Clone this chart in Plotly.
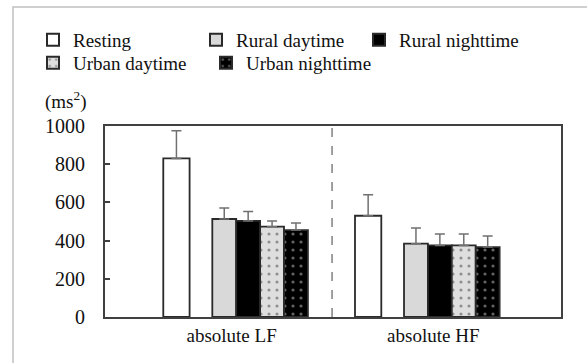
import plotly.graph_objects as go

# ---- data ----
categories = ["absolute LF", "absolute HF"]
series_names = ["Resting", "Rural daytime", "Rural nighttime", "Urban daytime", "Urban nighttime"]
resting = [830, 530]
rural_day = [513, 384]
rural_night = [503, 375]
urban_day = [473, 375]
urban_night = [455, 366]
resting_err = [145, 110]
rural_day_err = [58, 82]
rural_night_err = [50, 60]
urban_day_err = [30, 60]
urban_night_err = [37, 58]
y_ticks = [0, 200, 400, 600, 800, 1000]

values = [resting, rural_day, rural_night, urban_day, urban_night]
errors = [resting_err, rural_day_err, rural_night_err, urban_day_err, urban_night_err]

# ---- styles ----
SLOT = 0.1247
slot_index = [0, 2, 3, 4, 5]          # one empty slot after Resting
width_factor = [1.1, 1, 1, 1, 1]
fills = ["white", "#d9d9d9", "black", "#dedede", "black"]
patterns = [None, None, None,
            dict(shape=".", fgcolor="#404040", bgcolor="#dedede", size=8, solidity=0.12),
            dict(shape=".", fgcolor="#c8c8c8", bgcolor="black", size=8, solidity=0.12)]
legend_of = ["legend", "legend", "legend", "legend2", "legend2"]

SERIF = "Liberation Serif"
TXT = "#111111"

fig = go.Figure()
cat_idx = list(range(len(categories)))
for i, name in enumerate(series_names):
    off = (slot_index[i] - 2.5) * SLOT
    marker = dict(color=fills[i], line=dict(color="#2a2a2a", width=1.8))
    if patterns[i] is not None:
        marker["pattern"] = patterns[i]
    fig.add_trace(go.Bar(
        name=name,
        x=[c + off for c in cat_idx],
        y=values[i],
        width=SLOT * width_factor[i],
        marker=marker,
        legend=legend_of[i],
        error_y=dict(type="data", symmetric=False, array=errors[i],
                     arrayminus=[0] * len(errors[i]),
                     color="#707070", thickness=1.5, width=5),
    ))

W, H = 587, 363
L, R, T, B = 105, 26, 126, 46
pw, ph = W - L - R, H - T - B

def px_x(p):
    return (p - L) / pw

def px_y(p):
    return (H - B - p) / ph

label_pos = [-0.024, 1.028]

legend_common = dict(orientation="h", xanchor="left", yanchor="middle",
                     entrywidthmode="pixels",
                     font=dict(family=SERIF, size=19, color=TXT),
                     traceorder="normal", bgcolor="rgba(0,0,0,0)",
                     itemsizing="constant", borderwidth=0)

fig.update_layout(
    width=W, height=H,
    margin=dict(l=L, r=R, t=T, b=B, pad=0),
    paper_bgcolor="white", plot_bgcolor="white",
    barmode="overlay",
    font=dict(family=SERIF, size=19, color=TXT),
    showlegend=True,
    legend=dict(x=px_x(33), y=px_y(40), entrywidth=118, **legend_common),
    legend2=dict(x=px_x(33), y=px_y(63), entrywidth=128, **legend_common),
    xaxis=dict(range=[-0.6844, 1.6942],
               tickvals=label_pos, ticktext=categories,
               ticks="", showgrid=False, zeroline=False,
               showline=True, mirror=True, linecolor="#404040", linewidth=2,
               tickfont=dict(family=SERIF, size=19, color=TXT)),
    yaxis=dict(range=[0, 1000], tickvals=y_ticks, ticks="inside", ticklen=5,
               tickcolor="#404040", tickwidth=1.5,
               showgrid=False, zeroline=False,
               showline=True, mirror=True, linecolor="#404040", linewidth=2,
               ticklabelstandoff=14,
               tickfont=dict(family=SERIF, size=20, color=TXT)),
    shapes=[
        dict(type="line", xref="x", yref="paper", x0=0.5, x1=0.5, y0=0, y1=1,
             line=dict(color="#808080", width=1.5, dash="dash")),
        dict(type="rect", xref="paper", yref="paper",
             x0=px_x(13), x1=px_x(620), y0=px_y(400), y1=px_y(7),
             line=dict(color="#c0c0c0", width=1.5), fillcolor="rgba(0,0,0,0)"),
    ],
    annotations=[
        dict(text="(ms<sup>2</sup>)", xref="paper", yref="paper",
             x=px_x(43), y=px_y(100), xanchor="left", yanchor="middle",
             showarrow=False, font=dict(family=SERIF, size=19, color=TXT)),
    ],
)

fig.write_html("out.html")
